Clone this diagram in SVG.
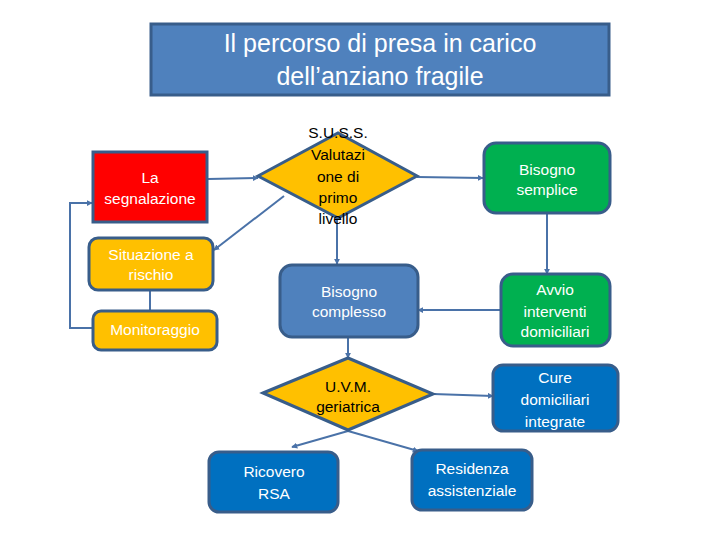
<svg xmlns="http://www.w3.org/2000/svg" width="720" height="540" viewBox="0 0 720 540">
<style>
.b{stroke:#385D8A;stroke-width:3}
.t{font-family:"Liberation Sans",Arial,sans-serif;font-size:15.5px;text-anchor:middle;fill:#fff}
.k{fill:#000}
.c{fill:none;stroke:#4A72A8;stroke-width:2}
</style>
<defs>
<marker id="a" viewBox="0 0 8 8" refX="7" refY="4" markerWidth="3" markerHeight="3" orient="auto" markerUnits="strokeWidth">
<path d="M0,0 L8,4 L0,8 z" fill="#4A72A8"/>
</marker>
</defs>
<rect width="720" height="540" fill="#fff"/>
<g id="title">
<rect x="151" y="24" width="458" height="71" fill="#4F81BD" class="b"/>
<text x="380" y="52" class="t" style="font-size:25px">Il percorso di presa in carico</text>
<text x="380" y="85" class="t" style="font-size:25px">dell’anziano fragile</text>
</g>
<g id="connectors">
<path class="c" d="M208,179 L258,178" marker-end="url(#a)"/>
<path class="c" d="M284,196 L214,250" marker-end="url(#a)"/>
<path class="c" d="M150,290 L150,312"/>
<path class="c" d="M93,328 L70,328 L70,203 L92,203" marker-end="url(#a)"/>
<path class="c" d="M337,218 L337,264" marker-end="url(#a)"/>
<path class="c" d="M417,177 L483,178" marker-end="url(#a)"/>
<path class="c" d="M547,213 L547,274" marker-end="url(#a)"/>
<path class="c" d="M501,310 L418,310" marker-end="url(#a)"/>
<path class="c" d="M348,337 L348,358" marker-end="url(#a)"/>
<path class="c" d="M433,394 L493,396" marker-end="url(#a)"/>
<path class="c" d="M348,431 L292,447" marker-end="url(#a)"/>
<path class="c" d="M348,431 L418,451" marker-end="url(#a)"/>
</g>
<g id="segnalazione">
<rect x="93" y="152" width="114" height="70" fill="#FF0000" class="b"/>
<text x="150" y="183" class="t">La</text>
<text x="150" y="204" class="t">segnalazione</text>
</g>
<g id="suss">
<polygon points="258,176 338,133 417,176 338,218" fill="#FFC000" class="b"/>
<text x="338" y="138" class="t k">S.U.S.S.</text>
<text x="338" y="160" class="t k">Valutazi</text>
<text x="338" y="182" class="t k">one di</text>
<text x="338" y="203" class="t k">primo</text>
<text x="338" y="224" class="t k">livello</text>
</g>
<g id="situazione">
<rect x="89" y="238" width="124" height="52" rx="9" fill="#FFC000" class="b"/>
<text x="151" y="260" class="t">Situazione a</text>
<text x="151" y="280" class="t">rischio</text>
</g>
<g id="monitoraggio">
<rect x="93" y="311" width="124" height="39" rx="8" fill="#FFC000" class="b"/>
<text x="155" y="335" class="t">Monitoraggio</text>
</g>
<g id="complesso">
<rect x="280" y="265" width="138" height="72" rx="12" fill="#4F81BD" class="b"/>
<text x="349" y="297" class="t">Bisogno</text>
<text x="349" y="317" class="t">complesso</text>
</g>
<g id="semplice">
<rect x="484" y="143" width="126" height="70" rx="12" fill="#00B050" class="b"/>
<text x="547" y="175" class="t">Bisogno</text>
<text x="547" y="195" class="t">semplice</text>
</g>
<g id="avvio">
<rect x="501" y="274" width="109" height="72" rx="12" fill="#00B050" class="b"/>
<text x="555" y="295" class="t">Avvio</text>
<text x="555" y="317" class="t">interventi</text>
<text x="555" y="337" class="t">domiciliari</text>
</g>
<g id="uvm">
<polygon points="263,393 348,358 433,394 348,430" fill="#FFC000" class="b"/>
<text x="348" y="392" class="t k">U.V.M.</text>
<text x="348" y="412" class="t k">geriatrica</text>
</g>
<g id="cure">
<rect x="493" y="365" width="125" height="66" rx="10" fill="#0070C0" class="b"/>
<text x="555" y="383" class="t">Cure</text>
<text x="555" y="405" class="t">domiciliari</text>
<text x="555" y="427" class="t">integrate</text>
</g>
<g id="ricovero">
<rect x="209" y="452" width="129" height="60" rx="10" fill="#0070C0" class="b"/>
<text x="274" y="477" class="t">Ricovero</text>
<text x="274" y="499" class="t">RSA</text>
</g>
<g id="residenza">
<rect x="412" y="450" width="120" height="60" rx="10" fill="#0070C0" class="b"/>
<text x="472" y="474" class="t">Residenza</text>
<text x="472" y="496" class="t">assistenziale</text>
</g>
</svg>
